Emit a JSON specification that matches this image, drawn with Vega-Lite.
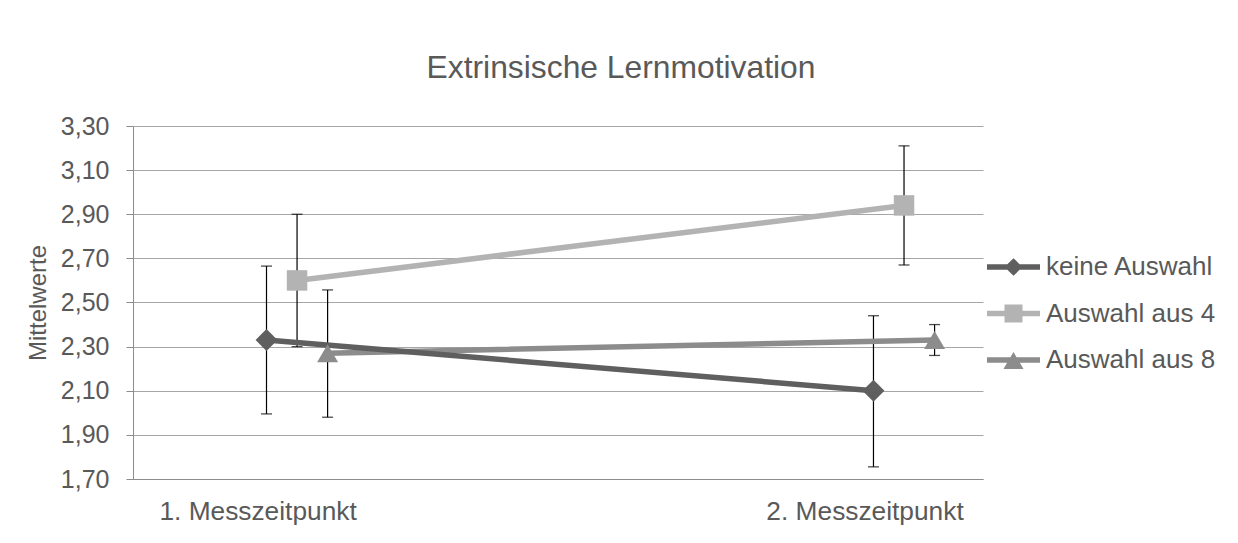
{
  "$schema": "https://vega.github.io/schema/vega-lite/v6.json",
  "width": 850,
  "height": 353,
  "autosize": {"type": "none"},
  "padding": {"left": 133, "top": 126, "right": 255, "bottom": 64},
  "background": "white",
  "config": {
    "locale": {"number": {"decimal": ",", "thousands": ".", "grouping": [3], "currency": ["", " €"]}},
    "font": "Liberation Sans",
    "view": {"stroke": null},
    "axis": {"labelFont": "Liberation Sans", "titleFont": "Liberation Sans", "labelColor": "#595959", "titleColor": "#595959", "titleFontWeight": "normal"},
    "legend": {
      "title": null,
      "orient": "none",
      "legendX": 854,
      "legendY": 126,
      "padding": 0,
      "symbolSize": 2809,
      "symbolStrokeWidth": 0,
      "symbolOpacity": 1,
      "labelFont": "Liberation Sans",
      "labelFontSize": 26,
      "labelColor": "#595959",
      "labelLimit": 0,
      "labelOffset": 6,
      "clipHeight": 30,
      "rowPadding": 16.5
    }
  },
  "title": {
    "text": "Extrinsische Lernmotivation",
    "font": "Liberation Sans",
    "fontSize": 31.8,
    "fontWeight": "normal",
    "color": "#595959",
    "anchor": "middle",
    "dx": 63,
    "baseline": "alphabetic",
    "offset": 4
  },
  "data": {
    "values": [
      {"Gruppe": "keine Auswahl", "Zeitpunkt": "1. Messzeitpunkt", "Mittelwert": 2.33, "lo": 1.995, "hi": 2.665},
      {"Gruppe": "keine Auswahl", "Zeitpunkt": "2. Messzeitpunkt", "Mittelwert": 2.10, "lo": 1.755, "hi": 2.44},
      {"Gruppe": "Auswahl aus 4", "Zeitpunkt": "1. Messzeitpunkt", "Mittelwert": 2.60, "lo": 2.30, "hi": 2.90},
      {"Gruppe": "Auswahl aus 4", "Zeitpunkt": "2. Messzeitpunkt", "Mittelwert": 2.94, "lo": 2.67, "hi": 3.21},
      {"Gruppe": "Auswahl aus 8", "Zeitpunkt": "1. Messzeitpunkt", "Mittelwert": 2.27, "lo": 1.98, "hi": 2.557},
      {"Gruppe": "Auswahl aus 8", "Zeitpunkt": "2. Messzeitpunkt", "Mittelwert": 2.33, "lo": 2.26, "hi": 2.40}
    ]
  },
  "encoding": {
    "x": {
      "field": "Zeitpunkt",
      "type": "nominal",
      "sort": null,
      "scale": {"paddingInner": 0.849, "paddingOuter": 0.1247, "align": 0.781},
      "axis": {
        "title": null,
        "labelAngle": 0,
        "labelFontSize": 26.3,
        "labelLimit": 0,
        "ticks": false,
        "tickSize": 0,
        "labelOffset": -39,
        "labelPadding": 19,
        "domainColor": "#8c8c8c",
        "grid": false
      }
    },
    "xOffset": {
      "field": "Gruppe",
      "type": "nominal",
      "scale": {"domain": ["keine Auswahl", "Auswahl aus 4", "Auswahl aus 8"], "paddingInner": 0, "paddingOuter": 0}
    }
  },
  "layer": [
    {
      "mark": {"type": "rule", "color": "black", "strokeWidth": 1.2},
      "encoding": {
        "y": {
          "field": "lo",
          "type": "quantitative",
          "title": "Mittelwerte",
          "scale": {"domain": [1.7, 3.3], "nice": false, "zero": false},
          "axis": {
            "values": [1.7, 1.9, 2.1, 2.3, 2.5, 2.7, 2.9, 3.1, 3.3],
            "format": ".2f",
            "labelFontSize": 25,
            "titleFontSize": 24,
            "tickSize": 7,
            "tickColor": "#8c8c8c",
            "domainColor": "#8c8c8c",
            "gridColor": "#a6a6a6",
            "labelPadding": 17,
            "titlePadding": 10
          }
        },
        "y2": {"field": "hi"}
      }
    },
    {
      "mark": {"type": "tick", "color": "black", "size": 11, "thickness": 1.3, "orient": "horizontal"},
      "encoding": {"y": {"field": "lo", "type": "quantitative", "title": "Mittelwerte"}}
    },
    {
      "mark": {"type": "tick", "color": "black", "size": 11, "thickness": 1.3, "orient": "horizontal"},
      "encoding": {"y": {"field": "hi", "type": "quantitative", "title": "Mittelwerte"}}
    },
    {
      "transform": [{"filter": "datum.Gruppe == 'Auswahl aus 8'"}],
      "mark": {"type": "line", "strokeWidth": 5.5, "strokeCap": "round", "color": "#8c8c8c"},
      "encoding": {"y": {"field": "Mittelwert", "type": "quantitative", "title": "Mittelwerte"}}
    },
    {
      "transform": [{"filter": "datum.Gruppe == 'Auswahl aus 4'"}],
      "mark": {"type": "line", "strokeWidth": 5.5, "strokeCap": "round", "color": "#b3b3b3"},
      "encoding": {"y": {"field": "Mittelwert", "type": "quantitative", "title": "Mittelwerte"}}
    },
    {
      "transform": [{"filter": "datum.Gruppe == 'keine Auswahl'"}],
      "mark": {"type": "line", "strokeWidth": 5.5, "strokeCap": "round", "color": "#5f5f5f"},
      "encoding": {"y": {"field": "Mittelwert", "type": "quantitative", "title": "Mittelwerte"}}
    },
    {
      "transform": [{"filter": "datum.Gruppe == 'keine Auswahl'"}],
      "mark": {"type": "point", "shape": "diamond", "filled": true, "opacity": 1, "size": 480, "color": "#5f5f5f"},
      "encoding": {"y": {"field": "Mittelwert", "type": "quantitative", "title": "Mittelwerte"}}
    },
    {
      "transform": [{"filter": "datum.Gruppe == 'Auswahl aus 4'"}],
      "mark": {"type": "point", "shape": "square", "filled": true, "opacity": 1, "size": 420, "color": "#b3b3b3"},
      "encoding": {"y": {"field": "Mittelwert", "type": "quantitative", "title": "Mittelwerte"}}
    },
    {
      "transform": [{"filter": "datum.Gruppe == 'Auswahl aus 8'"}],
      "mark": {"type": "point", "shape": "triangle-up", "filled": true, "opacity": 1, "size": 440, "color": "#8c8c8c"},
      "encoding": {"y": {"field": "Mittelwert", "type": "quantitative", "title": "Mittelwerte"}}
    },
    {
      "transform": [{"filter": "false"}],
      "mark": {"type": "point", "filled": true, "opacity": 1, "size": 2809, "strokeWidth": 0},
      "encoding": {
        "color": {
          "field": "Gruppe",
          "type": "nominal",
          "scale": {"domain": ["keine Auswahl", "Auswahl aus 4", "Auswahl aus 8"], "range": ["#5f5f5f", "#b3b3b3", "#8c8c8c"]},
          "legend": {}
        },
        "shape": {
          "field": "Gruppe",
          "type": "nominal",
          "scale": {
            "domain": ["keine Auswahl", "Auswahl aus 4", "Auswahl aus 8"],
            "range": [
              "M-1,-0.1L1,-0.1L1,0.1L-1,0.1ZM0,-0.33L0.34,0L0,0.33L-0.34,0Z",
              "M-1,-0.1L1,-0.1L1,0.1L-1,0.1ZM-0.34,-0.34L0.34,-0.34L0.34,0.34L-0.34,0.34Z",
              "M-1,-0.1L1,-0.1L1,0.1L-1,0.1ZM0,-0.3L0.38,0.34L-0.38,0.34Z"
            ]
          },
          "legend": {}
        }
      }
    }
  ]
}
